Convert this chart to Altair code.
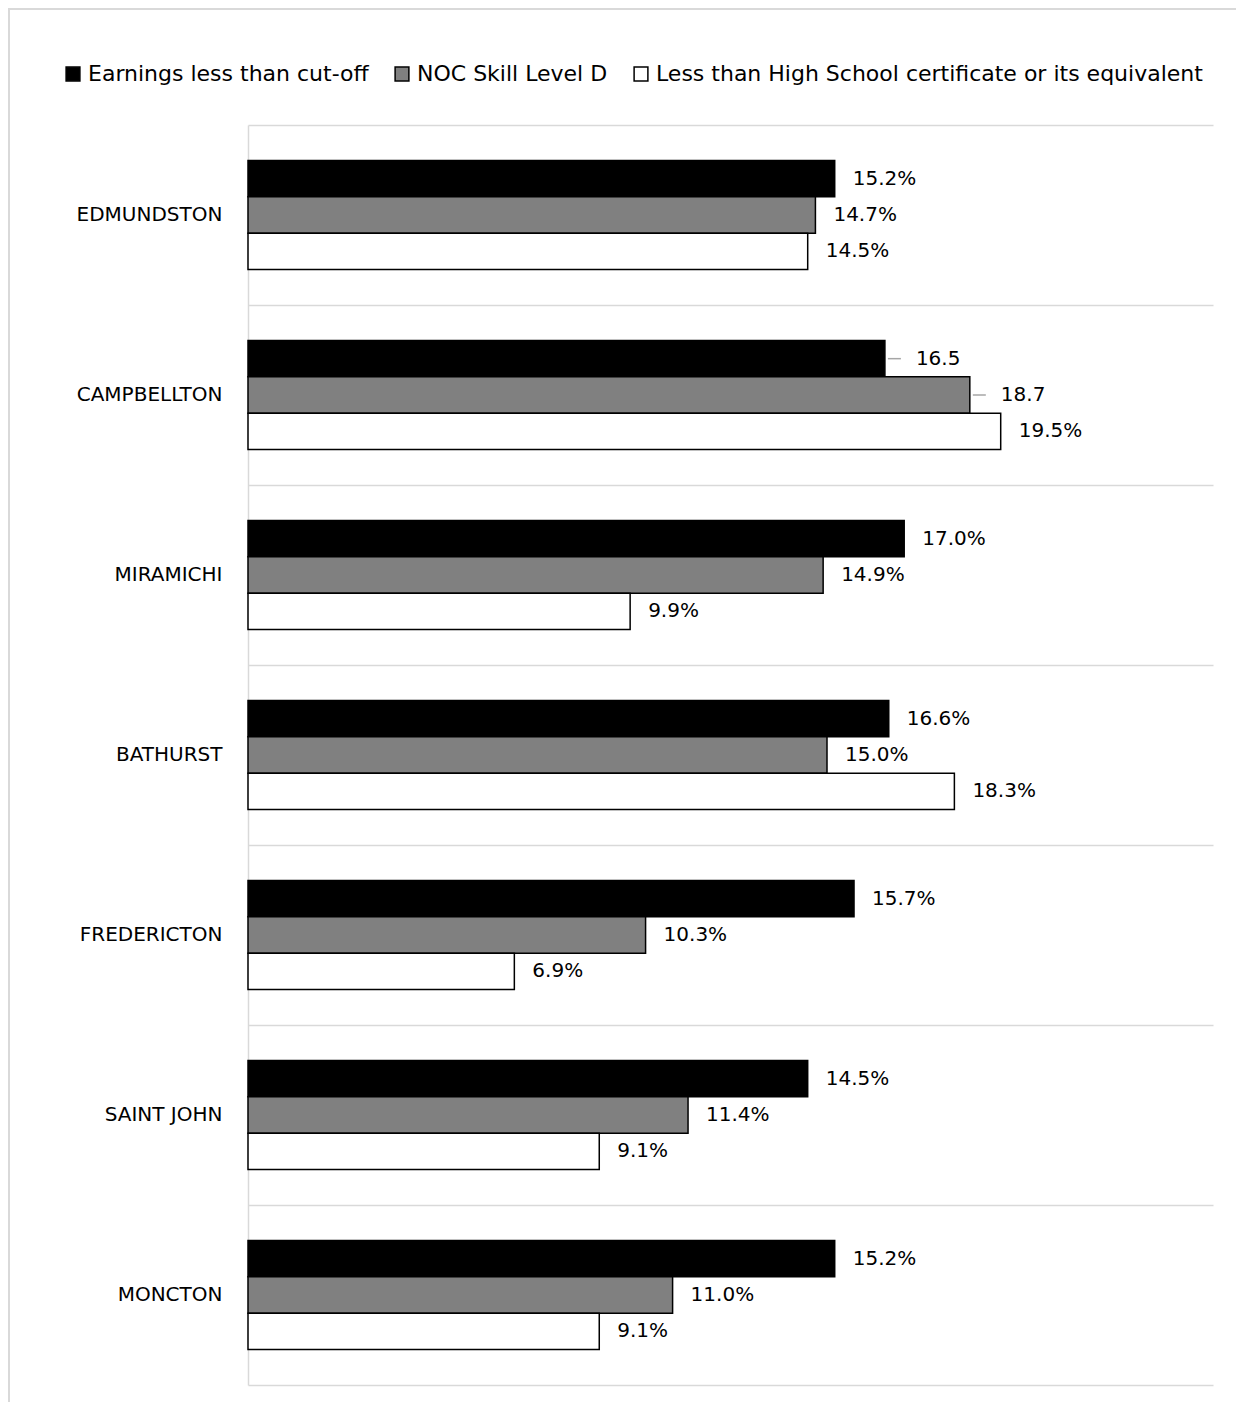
import altair as alt
import pandas as pd

cities = ["EDMUNDSTON", "CAMPBELLTON", "MIRAMICHI", "BATHURST", "FREDERICTON", "SAINT JOHN", "MONCTON"]
series = ["Earnings less than cut-off", "NOC Skill Level D", "Less than High School certificate or its equivalent"]
earnings = [15.2, 16.5, 17.0, 16.6, 15.7, 14.5, 15.2]
noc_d = [14.7, 18.7, 14.9, 15.0, 10.3, 11.4, 11.0]
less_hs = [14.5, 19.5, 9.9, 18.3, 6.9, 9.1, 9.1]
labels_earn = ["15.2%", "16.5", "17.0%", "16.6%", "15.7%", "14.5%", "15.2%"]
labels_noc = ["14.7%", "18.7", "14.9%", "15.0%", "10.3%", "11.4%", "11.0%"]
labels_hs = ["14.5%", "19.5%", "9.9%", "18.3%", "6.9%", "9.1%", "9.1%"]
leader_earn = [False, True, False, False, False, False, False]
leader_noc = [False, True, False, False, False, False, False]
leader_hs = [False] * 7

rows = []
for vals, labs, leads, s in [(earnings, labels_earn, leader_earn, series[0]),
                             (noc_d, labels_noc, leader_noc, series[1]),
                             (less_hs, labels_hs, leader_hs, series[2])]:
    for c, v, l, ld in zip(cities, vals, labs, leads):
        rows.append({"city": c, "series": s, "value": v, "label": l, "leader": ld})
df = pd.DataFrame(rows)

FONT = "DejaVu Sans"
W, H = 965, 1260

y_enc = alt.Y("city:N", sort=cities, title=None,
              scale=alt.Scale(paddingInner=0, paddingOuter=0),
              axis=alt.Axis(labelFontSize=20, labelFont=FONT, labelColor="#000000",
                            ticks=False, labelPadding=26, domainColor="#d9d9d9",
                            domainWidth=1.5, grid=True, gridColor="#d9d9d9",
                            gridWidth=1.5, bandPosition=0))
yoff = alt.YOffset("series:N", sort=series, scale=alt.Scale(paddingInner=0, paddingOuter=0.977))
x_enc = alt.X("value:Q", title=None, scale=alt.Scale(domain=[0, 25], nice=False),
              axis=alt.Axis(labels=False, ticks=False, grid=False, domainColor="#d9d9d9",
                            domainWidth=1.5))

color = alt.Color("series:N", sort=series, title=None,
                  scale=alt.Scale(domain=series, range=["#000000", "#808080", "#ffffff"]),
                  legend=alt.Legend(orient="none", legendX=-186, legendY=-62, direction="horizontal",
                                    symbolType="square", symbolSize=190, symbolStrokeColor="#000000",
                                    symbolStrokeWidth=1.5, labelFontSize=22, labelFont=FONT,
                                    labelColor="#000000", columnPadding=22, labelOffset=4,
                                    labelLimit=700))

bars = alt.Chart(df).mark_bar(stroke="#000000", strokeWidth=1.5).encode(
    x=x_enc, y=y_enc, yOffset=yoff, color=color)

text = alt.Chart(df).mark_text(align="left", baseline="middle", dx=18, fontSize=20,
                               font=FONT, color="#000000").encode(
    x="value:Q", y=alt.Y("city:N", sort=cities), yOffset=yoff,
    text=alt.condition("datum.leader", alt.value(""), "label:N"))

text_lead = alt.Chart(df).transform_filter("datum.leader").mark_text(
    align="left", baseline="middle", dx=31, fontSize=20, font=FONT, color="#000000").encode(
    x="value:Q", y=alt.Y("city:N", sort=cities), yOffset=yoff, text="label:N")

leaders = alt.Chart(df).transform_filter("datum.leader").mark_rule(
    color="#a6a6a6", strokeWidth=1.5, xOffset=3, x2Offset=16).encode(
    x="value:Q", x2="value:Q", y=alt.Y("city:N", sort=cities), yOffset=yoff)

frame = alt.Chart(pd.DataFrame({"a": [0]})).mark_rect(
    fill=None, stroke="#d9d9d9", strokeWidth=2).encode(
    x=alt.value(-239), x2=alt.value(W + 60), y=alt.value(-116), y2=alt.value(H + 60))

chart = alt.layer(frame, bars, leaders, text, text_lead).properties(
    width=W, height=H, autosize=alt.AutoSizeParams(type="none"),
    padding={"left": 240, "top": 117, "right": 23, "bottom": 17},
    background="#ffffff",
).configure_view(stroke=None)

chart.save("out.html", embed_options={"renderer": "svg", "actions": False})
